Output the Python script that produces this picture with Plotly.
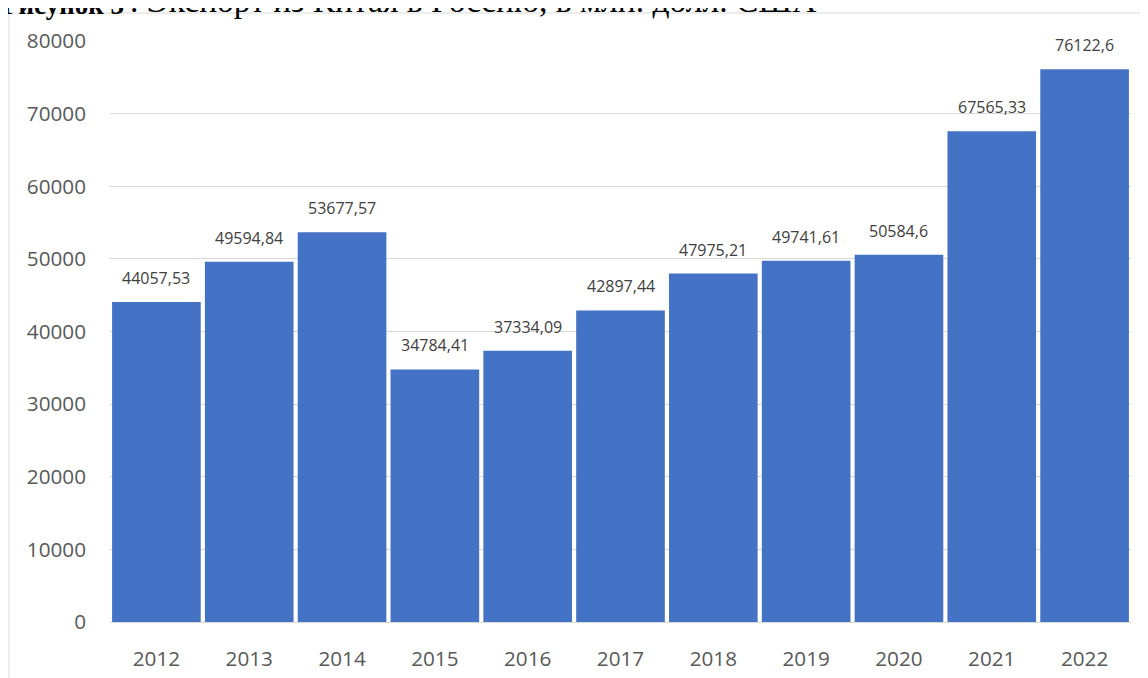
import plotly.graph_objects as go

years = [2012, 2013, 2014, 2015, 2016, 2017, 2018, 2019, 2020, 2021, 2022]
values = [44057.53, 49594.84, 53677.57, 34784.41, 37334.09, 42897.44, 47975.21, 49741.61, 50584.6, 67565.33, 76122.6]
labels = ["44057,53", "49594,84", "53677,57", "34784,41", "37334,09", "42897,44", "47975,21", "49741,61", "50584,6", "67565,33", "76122,6"]
y_ticks = [0, 10000, 20000, 30000, 40000, 50000, 60000, 70000, 80000]

# page body has an 8px margin; figure sized to fill the remaining window
OFF = 8
W, H = 1148 - OFF, 678 - OFF
ML, MR, MT, MB = 110 - OFF, 17, 41 - OFF, 56
plot_h = H - MT - MB
plot_w = W - ML - MR

def py(px):  # window pixel y -> paper y
    return (H - MB - (px - OFF)) / plot_h

def px_(x):  # window pixel x -> paper x
    return ((x - OFF) - ML) / plot_w

fig = go.Figure()
fig.add_trace(go.Bar(x=years, y=values, marker=dict(color="#4472C4", line=dict(width=0)),
                     width=0.955, hoverinfo="x+y"))

for yr, v, lab in zip(years, values, labels):
    fig.add_annotation(x=yr, y=v, xref="x", yref="y", text=lab, showarrow=False,
                       yanchor="bottom", yshift=11,
                       font=dict(family="Open Sans", size=16, color="#404040"))

# figure caption (top partly cut off, as in the reference)
fig.add_annotation(xref="paper", yref="paper", x=px_(0), y=py(22),
                   xanchor="left", yanchor="bottom", showarrow=False,
                   text="<b>Рисунок 3</b>",
                   font=dict(family="Liberation Serif", size=27, color="#000000"))
fig.add_annotation(xref="paper", yref="paper", x=px_(128), y=py(21),
                   xanchor="left", yanchor="bottom", showarrow=False,
                   text=". Экспорт из Китая в Россию, в млн. долл. США",
                   font=dict(family="Liberation Serif", size=33.5, color="#000000"))

# outer chart border (partly visible)
fig.add_shape(type="rect", xref="paper", yref="paper",
              x0=px_(9), x1=px_(1160), y0=py(700), y1=py(13),
              line=dict(color="#d9d9d9", width=1), layer="below")

fig.update_layout(
    width=W, height=H,
    margin=dict(l=ML, r=MR, t=MT, b=MB),
    paper_bgcolor="white", plot_bgcolor="white",
    showlegend=False,
    font=dict(family="Open Sans", color="#595959"),
    xaxis=dict(type="linear", range=[years[0] - 0.5, years[-1] + 0.5],
               tickvals=years, ticktext=[str(y) for y in years],
               tickfont=dict(size=20.7, color="#595959"), showgrid=False,
               showline=True, linecolor="#d9d9d9", linewidth=1, ticks="", ticklen=0,
               zeroline=False, ticklabelstandoff=18, automargin=False),
    yaxis=dict(range=[0, 80000], tickvals=y_ticks, tickformat="d",
               tickfont=dict(size=20.7, color="#595959"), showgrid=True,
               gridcolor="#d9d9d9", gridwidth=1, zeroline=False, ticks="",
               ticklabelstandoff=23, automargin=False),
)

fig.write_html("out.html")
